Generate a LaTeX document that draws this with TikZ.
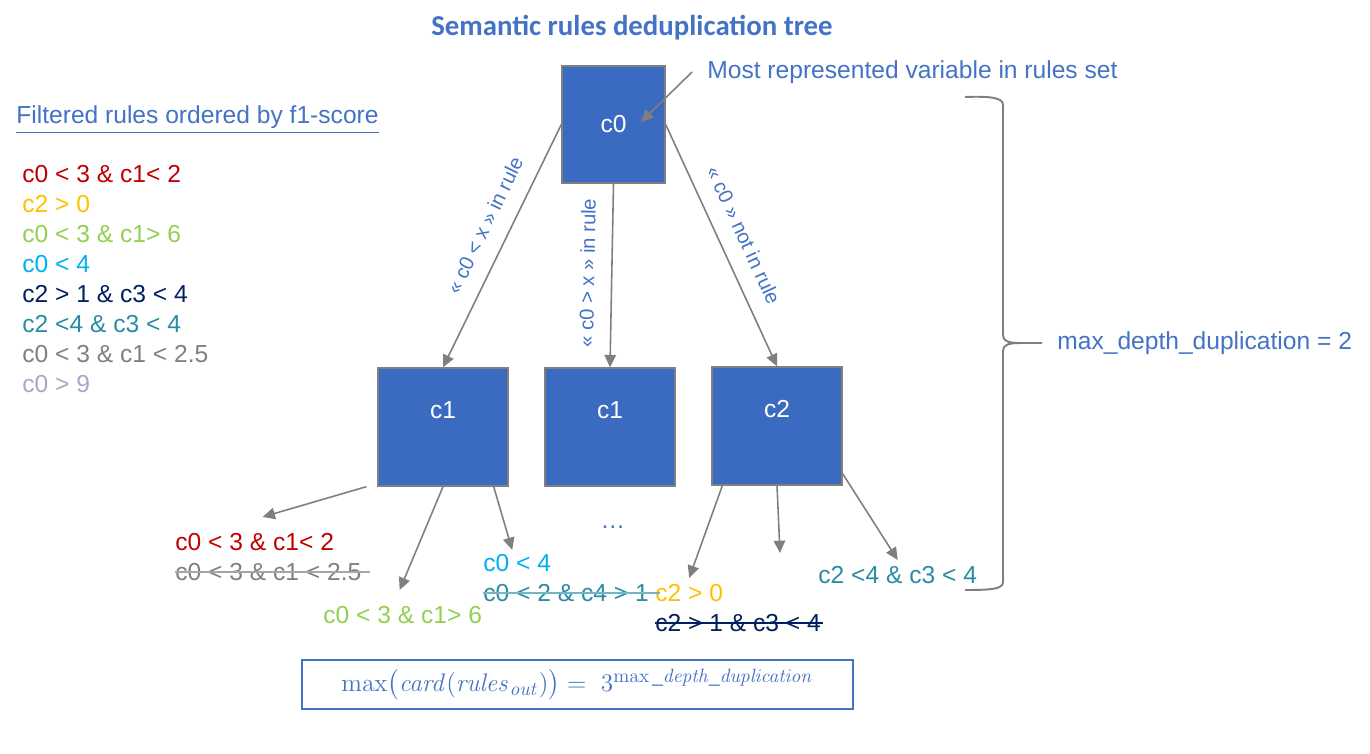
\documentclass[tikz,border=0pt]{standalone}
\usepackage{amsmath}
\usepackage[no-math]{fontspec}
\setmainfont{Liberation Sans}
\newfontfamily\titlefont{Carlito}
\usetikzlibrary{arrows.meta}
\definecolor{ppblue}{RGB}{68,114,196}
\definecolor{boxblue}{RGB}{58,107,192}
\definecolor{arrgray}{RGB}{127,127,127}
\definecolor{rred}{RGB}{192,0,0}
\definecolor{rorange}{RGB}{255,192,0}
\definecolor{rgreen}{RGB}{146,208,80}
\definecolor{rcyan}{RGB}{0,176,240}
\definecolor{rnavy}{RGB}{0,32,96}
\definecolor{rteal}{RGB}{40,140,165}
\definecolor{rgray}{RGB}{128,128,128}
\definecolor{rlilac}{RGB}{179,162,199}
\newcommand{\us}{\text{\_}}

\begin{document}
\begin{tikzpicture}[x=0.02cm, y=-0.02cm, font=\fontsize{14}{17}\selectfont,
  var/.style={draw=arrgray, fill=boxblue, text=white, line width=0.8pt},
  link/.style={draw=arrgray, line width=0.9pt, -{Triangle[length=7pt,width=6.5pt]}},
  rule/.style={anchor=west, inner sep=0pt},
  cond/.style={sloped, above=6pt, text=ppblue, font=\fontsize{11.5}{14}\selectfont},
  strike/.style={line width=0.8pt}]
  \useasboundingbox (0,0) rectangle (1370,754);

  \node[text=ppblue, font=\fontsize{16.4}{20}\selectfont\titlefont\bfseries] (title) at (632,28) {Semantic rules deduplication tree};

  % rules ordered by score
  \node[rule, text=ppblue] (head) at (16,120) {\underline{Filtered rules ordered by f1-score}};
  \node[rule, text=rred] (r1) at (22,174) {c0 < 3 \& c1< 2};
  \node[rule, text=rorange] (r2) at (22,204) {c2 > 0};
  \node[rule, text=rgreen] (r3) at (22,234) {c0 < 3 \& c1> 6};
  \node[rule, text=rcyan] (r4) at (22,264) {c0 < 4};
  \node[rule, text=rnavy] (r5) at (22,294) {c2 > 1 \& c3 < 4};
  \node[rule, text=rteal] (r6) at (22,324) {c2 <4 \& c3 < 4};
  \node[rule, text=rgray] (r7) at (22,354) {c0 < 3 \& c1 < 2.5};
  \node[rule, text=rlilac] (r8) at (22,384) {c0 > 9};

  % tree
  \node[var, minimum width=2.06cm, minimum height=2.34cm] (c0) at (613.5,124.5) {c0};
  \node[var, minimum width=2.6cm, minimum height=2.36cm,
    label={[white, yshift=0.34cm]center:c1}] (c1a) at (443,427) {};
  \node[var, minimum width=2.6cm, minimum height=2.36cm,
    label={[white, yshift=0.34cm]center:c1}] (c1b) at (610,427) {};
  \node[var, minimum width=2.6cm, minimum height=2.36cm,
    label={[white, yshift=0.34cm]center:c2}] (c2) at (777,426) {};

  \node[rule, text=ppblue] (most) at (707,72) {Most represented variable in rules set};
  \draw[link] ([xshift=-0.3cm]most.west) -- ([shift={(0.55cm,0.05cm)}]c0.center);

  \draw[link] (c0.west) -- node[cond, pos=0.46] {« c0 < x » in rule} (c1a.north);
  \draw[link] (c0.south) -- node[cond, pos=0.49] {« c0 > x » in rule} (c1b.north);
  \draw[link] (c0.east) -- node[cond, pos=0.5] {« c0 » not in rule} (c2.north);

  % leaves
  \node[rule, text=rred] (l1) at (175,542) {c0 < 3 \& c1< 2};
  \node[rule, text=rgray] (l2) at (175,572) {c0 < 3 \& c1 < 2.5};
  \node[rule, text=rgreen] (l3) at (323,615) {c0 < 3 \& c1> 6};
  \node[rule, text=rcyan] (l4) at (483,563) {c0 < 4};
  \node[rule, text=rteal] (l5) at (483,593) {c0 < 2 \& c4 > 1};
  \node[rule, text=rorange] (l6) at (655,593) {c2 > 0};
  \node[rule, text=rnavy] (l7) at (655,623) {c2 > 1 \& c3 < 4};
  \node[rule, text=rteal] (l8) at (818,575) {c2 <4 \& c3 < 4};
  \node[text=ppblue] (dots) at (613,527) {…};
  \coordinate (e8) at (780,553);

  \draw[strike, draw=rgray!70] (l2.west) -- ([xshift=0.16cm]l2.east);
  \draw[strike, draw=rteal!65] (l5.west) -- ([xshift=0.22cm]l5.east);
  \draw[strike, draw=rnavy] (l7.west) -- ([xshift=0.04cm]l7.east);

  \draw[link] ([xshift=-0.22cm]c1a.south west) -- ([shift={(0.16cm,0.32cm)}]l1.north);
  \draw[link] (c1a.south) -- ([shift={(-0.06cm,0.32cm)}]l3.north);
  \draw[link] ([xshift=-0.3cm]c1a.south east) -- ([shift={(-0.1cm,0.08cm)}]l4.north);
  \draw[link] ([xshift=0.22cm]c2.south west) -- ([yshift=0.12cm]l6.north);
  \draw[link] (c2.south) -- (e8);
  \draw[link] ([yshift=0.24cm]c2.south east) -- ([yshift=0.12cm]l8.north);

  % brace
  \draw[arrgray, line width=1.1pt] (965,97) .. controls (992,96) and (1003,98) .. (1003,105)
    -- (1003,335) .. controls (1003,341) and (1008,343) .. (1020,343) -- (1042,343)
    (1020,343) .. controls (1008,343) and (1003,345) .. (1003,351)
    -- (1003,582) .. controls (1003,589) and (992,590) .. (965,590);
  \node[rule, text=ppblue] (depth) at (1057,343) {max\_depth\_duplication = 2};

  \node[draw=ppblue, line width=1.1pt, text=ppblue, minimum width=11.02cm, minimum height=0.98cm] (formula) at (577.5,684.5)
    {\fontsize{15.5}{18.5}\selectfont$\max\bigl(\mathit{card}(\mathit{rules}_{\mathit{out}})\bigr) = \ 3^{\max\us\mathit{depth}\us\mathit{duplication}}$};
\end{tikzpicture}
\end{document}
